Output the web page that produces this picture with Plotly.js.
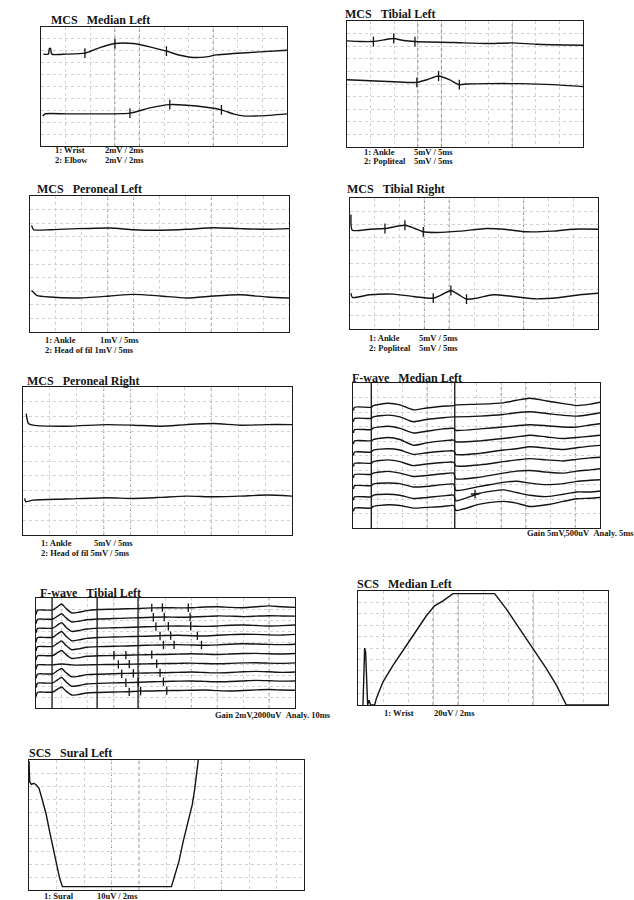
<!DOCTYPE html>
<html><head><meta charset="utf-8">
<script src="https://cdn.plot.ly/plotly-3.0.1.min.js"></script>
<style>html,body{margin:0;padding:0;background:#fff;}#chart{width:634px;height:900px;}</style>
</head><body><div id="chart"></div>
<script>
// ---------- DATA (x in ms, y in screen divisions) ----------
// Panel 1: MCS Median Left (2 ms/div)
const medL_x1 = [0.19,0.60,0.68,0.78,0.87,2.08,3.57,4.79,6.01,7.50,8.85,10.20,11.29,12.37,13.45,14.26,15.62,17.78,20];
const medL_y1 = [7.72,7.72,8.19,8.19,7.72,7.72,7.80,8.27,8.61,8.61,8.33,7.97,7.63,7.44,7.49,7.66,7.77,7.91,8.05];
const medL_x2 = [0.14,0.32,2.08,4.79,7.23,8.85,10.47,11.83,13.45,14.67,15.62,16.43,17.78,20];
const medL_y2 = [2.51,2.70,2.70,2.70,2.76,3.20,3.48,3.43,3.26,3.04,2.70,2.53,2.53,2.70];
const medL_m1x = [3.57,6.01,10.20], medL_m1y = [7.80,8.61,7.97];
const medL_m2x = [7.23,10.47,14.67], medL_m2y = [2.76,3.48,3.04];

// Panel 2: MCS Tibial Left (5 ms/div)
const tibL_x1 = [0,2.8,5.6,7.8,9.9,12.0,14.4,22.5,29.6,34.9,40.1,50];
const tibL_y1 = [8.42,8.37,8.37,8.50,8.61,8.45,8.37,8.29,8.21,8.26,8.16,8.08];
const tibL_x2 = [0,4.9,9.9,14.8,16.9,19.4,21.8,23.8,25.4,29.6,36.6,43.7,50];
const tibL_y2 = [5.34,5.26,5.18,5.13,5.34,5.63,5.32,4.95,5.00,5.03,5.03,4.95,4.79];
const tibL_m1x = [5.6,9.9,14.4], tibL_m1y = [8.37,8.61,8.37];
const tibL_m2x = [14.8,19.4,23.8], tibL_m2y = [5.13,5.63,4.95];

// Panel 3: MCS Peroneal Left (5 ms/div)
const perL_x1 = [0.3,0.7,3.87,9.02,15.46,19.97,25.13,30.28,35.44,40.59,45.75,50];
const perL_y1 = [7.84,7.52,7.52,7.60,7.65,7.52,7.48,7.55,7.67,7.60,7.55,7.60];
const perL_x2 = [0.3,0.6,1.29,3.87,9.02,15.46,19.97,25.13,30.28,35.44,40.59,45.75,50];
const perL_y2 = [3.06,2.94,2.70,2.57,2.50,2.65,2.77,2.65,2.50,2.65,2.74,2.57,2.50];

// Panel 4: MCS Tibial Right (5 ms/div)
const tibR_x1 = [0.2,0.47,4.03,7.05,11.07,13.09,14.77,17.45,22.15,27.52,31.54,35.57,40.94,44.97,50];
const tibR_y1 = [8.73,7.54,7.62,7.67,7.92,7.67,7.42,7.37,7.47,7.67,7.59,7.42,7.47,7.62,7.62];
const tibR_x2 = [0.2,0.47,4.03,8.72,12.75,16.78,18.46,20.34,22.15,23.49,25.50,28.86,32.89,37.58,42.28,46.31,50];
const tibR_y2 = [2.73,2.41,2.61,2.66,2.48,2.35,2.61,2.94,2.56,2.28,2.35,2.61,2.48,2.30,2.41,2.61,2.73];
const tibR_m1x = [7.05,11.07,14.77], tibR_m1y = [7.67,7.92,7.42];
const tibR_m2x = [16.78,20.34,23.49], tibR_m2y = [2.35,2.94,2.28];

// Panel 5: MCS Peroneal Right (5 ms/div)
const perR_x1 = [0.6,1.0,1.86,8.07,15.53,20.50,25.47,30.43,35.40,40.37,45.34,50];
const perR_y1 = [8.20,7.53,7.42,7.35,7.46,7.42,7.35,7.46,7.53,7.42,7.46,7.46];
const perR_x2 = [0.31,0.50,1.86,8.07,15.53,20.50,25.47,30.43,35.40,40.37,45.34,50];
const perR_y2 = [2.47,2.25,2.36,2.43,2.52,2.47,2.54,2.63,2.58,2.63,2.70,2.63];

// Panel 6: F-wave Median Left (5 ms/div), amplitudes relative to each trace's baseline
const fwMed_x = [0.1,0.3,3.7,4.1,7.1,9.5,12.2,14.9,18.2,20.4,20.8,25.7,30.4,33.1,35.8,39.2,42.6,45.3,48.0,50];
const fwMed_t1 = [-0.23,0,0,0.11,0.27,0.16,-0.18,-0.05,0.07,0.11,0.16,0.21,0.30,0.48,0.62,0.43,0.25,0.11,0.21,0.34];
const fwMed_t2 = [-0.23,0,0,0.11,0.23,0.11,-0.23,-0.07,0.05,0.11,0.11,0.16,0.27,0.39,0.46,0.34,0.21,0.16,0.27,0.39];
const fwMed_t3 = [-0.23,0,0,0.11,0.23,0.09,-0.23,-0.11,0.05,0.09,-0.05,0.05,0.18,0.27,0.34,0.27,0.18,0.18,0.32,0.41];
const fwMed_t4 = [-0.23,0,0,0.09,0.23,0.09,-0.30,-0.14,0,0.05,-0.07,0,0.16,0.27,0.39,0.27,0.16,0.23,0.32,0.39];
const fwMed_t5 = [-0.23,0,0,0.14,0.23,0.14,-0.16,-0.05,0.05,0.07,-0.16,-0.09,0.14,0.23,0.37,0.27,0.18,0.30,0.41,0.46];
const fwMed_t6 = [-0.23,0,0,0.11,0.23,0.11,-0.16,-0.05,0.05,0.07,-0.18,-0.11,0.11,0.23,0.32,0.23,0.16,0.27,0.37,0.41];
const fwMed_t7 = [-0.23,0,0,0.09,0.21,0.09,-0.14,-0.07,0.05,0.09,-0.30,-0.18,0.09,0.23,0.27,0.16,0.09,0.23,0.32,0.39];
const fwMed_t8 = [-0.23,0,0,0.11,0.18,0.14,-0.09,-0.05,0.07,0.11,-0.32,-0.05,0.23,0.30,0.18,0.07,0.14,0.30,0.37,0.41];
const fwMed_t9 = [-0.23,0,0,0.11,0.18,0.11,-0.11,-0.05,0.07,0.11,-0.27,0.25,0.48,0.30,0.11,0.02,0.18,0.34,0.34,0.41];
const fwMed_t10 = [-0.23,0,0,0.11,0.23,0.18,0,0.05,0.11,0.18,-0.16,0.27,0.46,0.34,0.11,0.23,0.46,0.64,0.68,0.73];
const fwMed_cursors = [3.7, 20.6];
const fwMed_markX = [24.7], fwMed_markY = [0.2];   // on trace 9

// Panel 7: F-wave Tibial Left (10 ms/div), relative amplitudes
const fwTib_x = [0,0.6,4,6.5,8.3,9.9,11.6,13.8,16.5,19.6,24,30,35,40,45,50,55,60,65,70,75,80,85,90,95,100];
const fwTib_t1 = [-0.4,0,0,0.02,0.3,0.55,0.15,-0.25,-0.2,-0.05,0.05,0.08,0.12,0.15,0.2,0.22,0.2,0.22,0.28,0.3,0.25,0.22,0.3,0.38,0.3,0.25];
const fwTib_t2 = [-0.4,0,0,0.02,0.28,0.5,0.12,-0.25,-0.18,-0.05,0.02,0.06,0.1,0.14,0.18,0.2,0.18,0.2,0.25,0.3,0.28,0.24,0.28,0.32,0.3,0.28];
const fwTib_t3 = [-0.4,0,0,0.02,0.3,0.52,0.1,-0.28,-0.2,-0.06,0.02,0.05,0.08,0.12,0.16,0.2,0.22,0.2,0.18,0.22,0.28,0.3,0.26,0.22,0.25,0.3];
const fwTib_t4 = [-0.4,0,0,0.02,0.32,0.55,0.12,-0.3,-0.22,-0.08,0,0.04,0.08,0.1,0.14,0.18,0.2,0.16,0.14,0.2,0.26,0.3,0.28,0.24,0.22,0.28];
const fwTib_t5 = [-0.4,0,0,0.02,0.3,0.52,0.1,-0.28,-0.2,-0.06,0,0.03,0.06,0.1,0.14,0.16,0.18,0.15,0.12,0.16,0.22,0.26,0.24,0.2,0.18,0.22];
const fwTib_t6 = [-0.4,0,0,0.02,0.28,0.48,0.1,-0.25,-0.18,-0.05,0,0.02,0.05,0.08,0.1,0.12,0.15,0.18,0.15,0.12,0.16,0.2,0.22,0.18,0.16,0.2];
const fwTib_t7 = [-0.4,0,0,0,0.05,0.08,0.05,0,-0.02,0,0.02,0.04,0.06,0.08,0.1,0.12,0.14,0.16,0.12,0.1,0.14,0.18,0.2,0.16,0.14,0.18];
const fwTib_t8 = [-0.4,0,0,0.02,0.3,0.5,0.12,-0.25,-0.2,-0.06,-0.02,0.02,0.06,0.08,0.1,0.12,0.15,0.18,0.14,0.1,0.14,0.2,0.24,0.2,0.15,0.18];
const fwTib_t9 = [-0.4,0,0,0.02,0.3,0.52,0.12,-0.28,-0.22,-0.08,-0.02,0.02,0.05,0.08,0.12,0.15,0.18,0.2,0.16,0.12,0.15,0.2,0.25,0.22,0.18,0.2];
const fwTib_t10 = [-0.4,0,0,0.02,0.28,0.48,0.1,-0.25,-0.2,-0.06,-0.02,0.02,0.05,0.1,0.12,0.15,0.16,0.18,0.2,0.15,0.12,0.16,0.22,0.25,0.2,0.18];
const fwTib_cursors = [6.2, 23.6, 39.4];
const fwTib_markX = [[44.7,48.8,58.8],[45.3,49.5,59.5],[46.3,51.1,59.7],[47.9,52.0,62.3],[49.2,53.3,63.9],
                     [30.1,34.7,44.7],[31.8,36.0,46.6],[33.1,37.6,47.9],[34.7,39.5,49.2],[36.0,40.4,50.5]];
const fwTib_markY = [[0.2,0.22,0.22],[0.18,0.2,0.2],[0.16,0.19,0.2],[0.14,0.17,0.16],[0.14,0.16,0.15],
                     [0.04,0.06,0.1],[0.04,0.07,0.1],[0.02,0.06,0.1],[0.04,0.08,0.13],[0.04,0.1,0.15]];

// Panel 8: SCS Median Left (2 ms/div)
const scsMed_x = [0.40,0.53,0.61,0.77,0.88,1.01,1.33,1.47,2.0,2.8,3.87,4.67,5.47,6.13,6.8,7.6,10.93,11.87,12.93,14.0,15.07,15.87,16.67,20];
const scsMed_y = [0,4.99,4.64,0,0.43,0,0,0.58,2.03,3.48,5.22,6.52,7.83,8.70,9.13,9.77,9.77,8.41,6.67,4.93,3.19,1.74,0,0];

// Panel 9: SCS Sural Left (2 ms/div)
const scsSur_x = [0,0.05,0.17,0.34,0.53,0.73,0.97,1.26,1.50,1.75,1.99,2.23,2.43,10.36,10.61,10.90,11.21,11.58,11.87,12.06,12.18,12.31];
const scsSur_y = [9.92,8.33,8.13,8.21,8.08,7.82,6.92,5.77,4.49,3.21,1.92,0.90,0.26,0.26,1.15,2.18,3.72,5.26,6.54,7.82,9.10,10.0];

// ---------- LAYOUT ----------
const W = 634, H = 900;
const panels = [
  {box:[41,27,287,146],  xmax:20, dark:[3,4,7]},
  {box:[347,21,583,147], xmax:50, dark:[3,4,7]},
  {box:[30,196,289,332], xmax:50, dark:[3,4,7]},
  {box:[350,198,598,329],xmax:50, dark:[3,4,7]},
  {box:[23,387,292,535], xmax:50, dark:[3,4,7]},
  {box:[353,383,600,528],xmax:50, dark:[3,6,7,9]},
  {box:[36,598,295,708], xmax:100,dark:[3,6,7,9]},
  {box:[358,591,608,705],xmax:20, dark:[3,4,7]},
  {box:[29,760,304,890], xmax:20, dark:[3,4,7]}
];
const suf = n => (n === 1 ? '' : String(n));
const INK = '#141414';
const data = [];
const shapes = [];
const annotations = [];
const layout = {
  width: W, height: H, margin:{l:0,r:0,t:0,b:0},
  paper_bgcolor:'#fff', plot_bgcolor:'#fff', showlegend:false,
  font:{family:'Liberation Serif, serif', color:INK}
};

panels.forEach((p, i) => {
  const s = suf(i + 1);
  const ax = {
    showgrid:true, gridcolor:'#d2d2d2', griddash:'dot', gridwidth:1,
    showline:true, mirror:true, linecolor:'#1c1c1c', linewidth:1.3,
    ticks:'', showticklabels:false, zeroline:false, fixedrange:true
  };
  layout['xaxis' + s] = Object.assign({}, ax, {
    domain:[p.box[0]/W, p.box[2]/W], range:[0, p.xmax], dtick:p.xmax/10, anchor:'y' + s
  });
  layout['yaxis' + s] = Object.assign({}, ax, {
    domain:[1 - p.box[3]/H, 1 - p.box[1]/H], range:[0, 10], dtick:1, anchor:'x' + s
  });
  p.dark.forEach(d => {
    shapes.push({type:'line', xref:'x' + s, yref:'y' + s + ' domain', x0:d*p.xmax/10, x1:d*p.xmax/10, y0:0, y1:1,
      line:{color:'#8c8c8c', width:1, dash:'dot'}, layer:'below'});
  });
});

function line(x, y, n, shape) {
  const s = suf(n);
  data.push({type:'scatter', mode:'lines', x:x, y:y, xaxis:'x' + s, yaxis:'y' + s,
    line:{color:INK, width:1.4, shape:shape || 'spline', smoothing:0.6}, hoverinfo:'skip'});
}
function ticksOn(x, y, n, sym, size) {
  const s = suf(n);
  data.push({type:'scatter', mode:'markers', x:x, y:y, xaxis:'x' + s, yaxis:'y' + s,
    marker:{symbol:sym || 'line-ns-open', size:size || 7, color:INK, line:{color:INK, width:1.3}}, hoverinfo:'skip'});
}

// MCS panels
line(medL_x1, medL_y1, 1); line(medL_x2, medL_y2, 1);
ticksOn(medL_m1x, medL_m1y, 1); ticksOn(medL_m2x, medL_m2y, 1);
line(tibL_x1, tibL_y1, 2); line(tibL_x2, tibL_y2, 2);
ticksOn(tibL_m1x, tibL_m1y, 2); ticksOn(tibL_m2x, tibL_m2y, 2);
line(perL_x1, perL_y1, 3); line(perL_x2, perL_y2, 3);
line(tibR_x1, tibR_y1, 4); line(tibR_x2, tibR_y2, 4);
ticksOn(tibR_m1x, tibR_m1y, 4); ticksOn(tibR_m2x, tibR_m2y, 4);
line(perR_x1, perR_y1, 5); line(perR_x2, perR_y2, 5);

// F-wave Median Left: stacked traces
const fwMedTraces = [fwMed_t1,fwMed_t2,fwMed_t3,fwMed_t4,fwMed_t5,fwMed_t6,fwMed_t7,fwMed_t8,fwMed_t9,fwMed_t10];
const medTop = 8.33, medStep = 0.773;
fwMedTraces.forEach((t, k) => {
  const base = medTop - k * medStep;
  line(fwMed_x, t.map(v => v + base), 6);
});
ticksOn(fwMed_markX, fwMed_markY.map(v => v + medTop - 8 * medStep), 6, 'cross-thin-open', 6);
fwMed_cursors.forEach(c => shapes.push({type:'line', xref:'x6', yref:'y6 domain', x0:c, x1:c, y0:0, y1:1,
  line:{color:INK, width:1.3}}));

// F-wave Tibial Left: stacked traces
const fwTibTraces = [fwTib_t1,fwTib_t2,fwTib_t3,fwTib_t4,fwTib_t5,fwTib_t6,fwTib_t7,fwTib_t8,fwTib_t9,fwTib_t10];
const tibTop = 8.9, tibStep = 0.83;
fwTibTraces.forEach((t, k) => {
  const base = tibTop - k * tibStep;
  line(fwTib_x, t.map(v => v + base), 7);
  ticksOn(fwTib_markX[k], fwTib_markY[k].map(v => v + base), 7, 'line-ns-open', 6);
});
fwTib_cursors.forEach(c => shapes.push({type:'line', xref:'x7', yref:'y7 domain', x0:c, x1:c, y0:0, y1:1,
  line:{color:INK, width:1.3}}));

// SCS panels
line(scsMed_x, scsMed_y, 8, 'linear');
line(scsSur_x, scsSur_y, 9, 'linear');

// ---------- TEXT ----------
const NB = '\u00A0';
function ann(text, px, py, size) {
  annotations.push({x:px/W, y:1 - py/H, xref:'paper', yref:'paper', xanchor:'left', yanchor:'middle',
    text:'<b>' + text + '</b>', showarrow:false,
    font:{family:'Liberation Serif, serif', size:size, color:INK}});
}
const T = 12, L = 8.5;
ann('MCS' + NB+NB+NB + 'Median Left', 49, 20, T);
ann('MCS' + NB+NB+NB + 'Tibial Left', 343, 14, T);
ann('MCS' + NB+NB+NB + 'Peroneal Left', 35, 189, T);
ann('MCS' + NB+NB+NB + 'Tibial Right', 345, 189, T);
ann('MCS' + NB+NB+NB + 'Peroneal Right', 25, 381, T);
ann('F-wave' + NB+NB+NB + 'Median Left', 350, 378, T);
ann('F-wave' + NB+NB+NB + 'Tibial Left', 38, 593, T);
ann('SCS' + NB+NB+NB + 'Median Left', 355, 584, T);
ann('SCS' + NB+NB+NB + 'Sural Left', 27, 753, T);

ann('1: Wrist', 53, 150, L); ann('2mV / 2ms', 103, 150, L);
ann('2: Elbow', 53, 160, L); ann('2mV / 2ms', 103, 160, L);
ann('1: Ankle', 362, 152, L); ann('5mV / 5ms', 412, 152, L);
ann('2: Popliteal', 362, 161, L); ann('5mV / 5ms', 412, 161, L);
ann('1: Ankle', 43, 340, L); ann('1mV / 5ms', 98, 340, L);
ann('2: Head of fil 1mV / 5ms', 43, 350, L);
ann('1: Ankle', 367, 338, L); ann('5mV / 5ms', 417, 338, L);
ann('2: Popliteal', 367, 348, L); ann('5mV / 5ms', 417, 348, L);
ann('1: Ankle', 39, 543, L); ann('5mV / 5ms', 92, 543, L);
ann('2: Head of fil 5mV / 5ms', 39, 553, L);
ann('Gain 5mV,500uV' + NB+NB + 'Analy. 5ms', 525, 533, L);
ann('Gain 2mV,2000uV' + NB+NB + 'Analy. 10ms', 213, 715, L);
ann('1: Wrist', 382, 713, L); ann('20uV / 2ms', 432, 713, L);
ann('1: Sural', 42, 896, L); ann('10uV / 2ms', 95, 896, L);

layout.shapes = shapes;
layout.annotations = annotations;
Plotly.newPlot('chart', data, layout, {displayModeBar:false, staticPlot:true});
</script></body></html>
